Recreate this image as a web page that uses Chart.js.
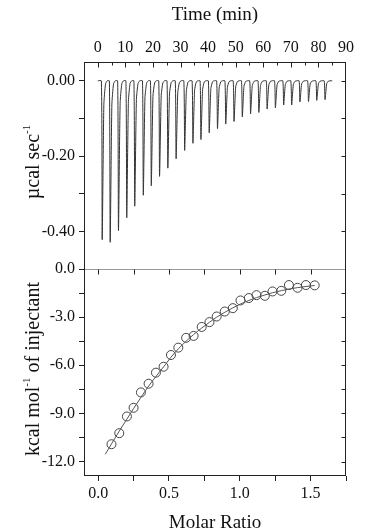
<!DOCTYPE html>
<html>
<head>
<meta charset="utf-8">
<script src="https://cdn.jsdelivr.net/npm/chart.js@4"></script>
<style>
    html, body { margin: 0; padding: 0; background: #fff; overflow: hidden; }
    #wrap { position: relative; width: 370px; height: 529px; overflow: hidden; }
    canvas { position: absolute; left: 0; top: 0; }
    .ytitle {
        position: absolute;
        font-family: "Liberation Serif", serif;
        font-size: 20px;
        color: #111;
        white-space: nowrap;
        transform: translate(-50%, -50%) rotate(-90deg);
    }
    .ytitle sup { font-size: 11px; vertical-align: 9px; }
</style>
</head>
<body>
<div id="wrap">
    <canvas id="rawChart" width="370" height="545"></canvas>
    <canvas id="fitChart" width="370" height="545"></canvas>
    <div class="ytitle" style="left:32px;top:162px">&micro;cal sec<sup>-1</sup></div>
    <div class="ytitle" style="left:32px;top:369px">kcal mol<sup>-1</sup> of injectant</div>
</div>
<script>
// 注射时间 (min) 与每个峰的最低点 (µcal/sec)
const injectionTimes = [1.6, 4.5, 7.5, 10.5, 13.4, 16.5, 19.4, 22.4, 25.4, 28.4, 31.5, 34.5, 37.4, 40.4,
    43.4, 46.4, 49.4, 52.4, 55.4, 58.4, 61.4, 64.4, 67.4, 70.3, 73.3, 76.4, 79.4, 82.4];
const peakHeats = [-0.422, -0.429, -0.398, -0.364, -0.333, -0.304, -0.279, -0.254, -0.232, -0.207,
    -0.185, -0.166, -0.156, -0.138, -0.127, -0.115, -0.108, -0.096, -0.088, -0.084, -0.075, -0.072,
    -0.064, -0.064, -0.056, -0.055, -0.052, -0.050];
const traceStart = 0;
const traceEnd = 85;

// 积分热 (kcal/mol) 与拟合曲线
const molarRatio = [0.094, 0.149, 0.203, 0.250, 0.302, 0.356, 0.408, 0.462, 0.514, 0.566, 0.621, 0.674,
    0.731, 0.786, 0.837, 0.894, 0.951, 1.005, 1.064, 1.118, 1.177, 1.231, 1.293, 1.347, 1.408, 1.467, 1.529];
const heatPerMole = [-10.92, -10.23, -9.19, -8.65, -7.69, -7.15, -6.46, -6.09, -5.36, -4.90, -4.29, -4.17,
    -3.61, -3.31, -2.96, -2.65, -2.44, -1.96, -1.81, -1.63, -1.67, -1.40, -1.36, -1.00, -1.17, -1.00, -1.02];
const fitRatio = [0.05, 0.094, 0.149, 0.203, 0.250, 0.302, 0.356, 0.408, 0.462, 0.514, 0.566, 0.621, 0.674,
    0.731, 0.786, 0.837, 0.894, 0.951, 1.005, 1.064, 1.118, 1.177, 1.231, 1.293, 1.347, 1.408, 1.467, 1.529];
const fitHeat = [-11.55, -10.9, -10.1, -9.35, -8.7, -8.0, -7.3, -6.7, -6.1, -5.5, -4.98, -4.5, -4.08,
    -3.68, -3.32, -3.0, -2.7, -2.42, -2.18, -1.96, -1.78, -1.62, -1.48, -1.35, -1.25, -1.16, -1.09, -1.03];

// 刻度
const timeTicks = [0, 5, 10, 15, 20, 25, 30, 35, 40, 45, 50, 55, 60, 65, 70, 75, 80, 85, 90];
const timeLabels = ['0', '', '10', '', '20', '', '30', '', '40', '', '50', '', '60', '', '70', '', '80', '', '90'];
const rateTicks = [0, -0.1, -0.2, -0.3, -0.4];
const rateLabels = ['0.00', '', '-0.20', '', '-0.40'];
const ratioTicks = [0, 0.25, 0.5, 0.75, 1, 1.25, 1.5, 1.75];
const ratioLabels = ['0.0', '', '0.5', '', '1.0', '', '1.5', ''];
const enthalpyTicks = [0, -1.5, -3, -4.5, -6, -7.5, -9, -10.5, -12];
const enthalpyLabels = ['0.0', '', '-3.0', '', '-6.0', '', '-9.0', '', '-12.0'];

// 峰形 (相对时间, 相对深度)
const spikeShape = [[-0.3, 0], [0, 1], [0.6, 0.15], [1.2, 0.02], [1.8, 0]];

Chart.defaults.font.family = '"Liberation Serif", "Times New Roman", serif';
Chart.defaults.color = '#111';

const INK = '#222';

// 画框和朝内的刻度
const framePlugin = {
    id: 'frame',
    afterDatasetsDraw(chart, args, o) {
        const { ctx, chartArea: a } = chart;
        const xs = chart.scales.x, ys = chart.scales.y;
        const L = Math.round(a.left) + 0.5, R = Math.round(a.right) - 0.5;
        const T = Math.round(a.top) + 0.5, B = Math.round(a.bottom) - 0.5;
        ctx.save();
        ctx.lineWidth = 1;
        const line = (x1, y1, x2, y2, c) => {
            ctx.strokeStyle = c;
            ctx.beginPath();
            ctx.moveTo(x1, y1);
            ctx.lineTo(x2, y2);
            ctx.stroke();
        };
        if (o.topColor) line(L, T, R, T, o.topColor);
        if (o.bottomColor) line(L, B, R, B, o.bottomColor);
        line(L, T - 0.5, L, B + 0.5, INK);
        line(R, T - 0.5, R, B + 0.5, INK);
        xs.ticks.forEach((t, i) => {
            const px = Math.round(xs.getPixelForValue(t.value)) + 0.5;
            if (px < L + 1 || px > R - 1) return;
            const len = o.xLabels[i] !== '' ? o.majorLen : o.minorLen;
            line(px, T, px, T + len, INK);
        });
        ys.ticks.forEach((t) => {
            const py = Math.round(ys.getPixelForValue(t.value)) + 0.5;
            if (py < T + 1 || py > B - 1) return;
            line(R, py, R - o.rightLen, py, INK);
        });
        ctx.restore();
    }
};

const setTicks = (values) => (scale) => { scale.ticks = values.map(v => ({ value: v })); };

// 上图：原始热流曲线
const trace = [{ x: traceStart, y: 0 }];
injectionTimes.forEach((t, i) => {
    spikeShape.forEach(([dt, f]) => trace.push({ x: t + dt, y: peakHeats[i] * f }));
});
trace.push({ x: traceEnd, y: 0 });

new Chart(document.getElementById('rawChart'), {
    type: 'line',
    data: {
        datasets: [{
            data: trace,
            borderColor: '#333',
            borderWidth: 1,
            pointRadius: 0,
            tension: 0.2
        }]
    },
    options: {
        responsive: false,
        animation: false,
        layout: { padding: { top: 0, right: 24, bottom: 276, left: 0 } },
        plugins: {
            legend: { display: false },
            tooltip: { enabled: false },
            frame: { topColor: INK, bottomColor: null, xLabels: timeLabels, majorLen: 5, minorLen: 3, rightLen: 4 }
        },
        scales: {
            x: {
                type: 'linear',
                position: 'top',
                min: -5,
                max: 90,
                afterBuildTicks: setTicks(timeTicks),
                afterFit: s => { s.height = 62; },
                grid: { display: false, drawTicks: false },
                border: { display: false },
                ticks: {
                    autoSkip: false,
                    maxRotation: 0,
                    padding: 5,
                    font: { size: 16 },
                    callback: (v, i) => timeLabels[i]
                },
                title: { display: true, text: 'Time (min)', font: { size: 19 }, padding: { top: 4, bottom: 0 } }
            },
            y: {
                min: -0.5,
                max: 0.05,
                afterBuildTicks: setTicks(rateTicks),
                afterFit: s => { s.width = 84; },
                grid: { display: true, drawOnChartArea: false, drawTicks: true, tickLength: 5, color: INK },
                border: { display: false },
                ticks: {
                    autoSkip: false,
                    padding: 4,
                    font: { size: 16 },
                    callback: (v, i) => rateLabels[i]
                }
            }
        }
    },
    plugins: [framePlugin]
});

// 下图：积分热与拟合
new Chart(document.getElementById('fitChart'), {
    type: 'scatter',
    data: {
        datasets: [{
            data: fitRatio.map((x, i) => ({ x, y: fitHeat[i] })),
            showLine: true,
            borderColor: '#555',
            borderWidth: 1,
            pointRadius: 0,
            cubicInterpolationMode: 'monotone'
        }, {
            data: molarRatio.map((x, i) => ({ x, y: heatPerMole[i] })),
            pointStyle: 'circle',
            pointRadius: 4.5,
            borderColor: '#444',
            borderWidth: 1,
            backgroundColor: 'rgba(0,0,0,0)'
        }]
    },
    options: {
        responsive: false,
        animation: false,
        layout: { padding: { top: 269, right: 24, bottom: 0, left: 0 } },
        plugins: {
            legend: { display: false },
            tooltip: { enabled: false },
            frame: { topColor: '#999', bottomColor: INK, xLabels: ratioLabels, majorLen: 5, minorLen: 5, rightLen: 4 }
        },
        scales: {
            x: {
                type: 'linear',
                position: 'bottom',
                min: -0.1,
                max: 1.75,
                afterBuildTicks: setTicks(ratioTicks),
                afterFit: s => { s.height = 69; },
                grid: { display: true, drawOnChartArea: false, drawTicks: true, tickLength: 5, color: INK },
                border: { display: false },
                ticks: {
                    autoSkip: false,
                    maxRotation: 0,
                    padding: 3,
                    font: { size: 16 },
                    callback: (v, i) => ratioLabels[i]
                },
                title: { display: true, text: 'Molar Ratio', font: { size: 19 }, padding: { top: 0, bottom: 11 } }
            },
            y: {
                min: -12.9,
                max: 0,
                afterBuildTicks: setTicks(enthalpyTicks),
                afterFit: s => { s.width = 84; },
                grid: { display: true, drawOnChartArea: false, drawTicks: true, tickLength: 5, color: INK },
                border: { display: false },
                ticks: {
                    autoSkip: false,
                    padding: 4,
                    font: { size: 16 },
                    callback: (v, i) => enthalpyLabels[i]
                }
            }
        }
    },
    plugins: [framePlugin]
});
</script>
</body>
</html>
